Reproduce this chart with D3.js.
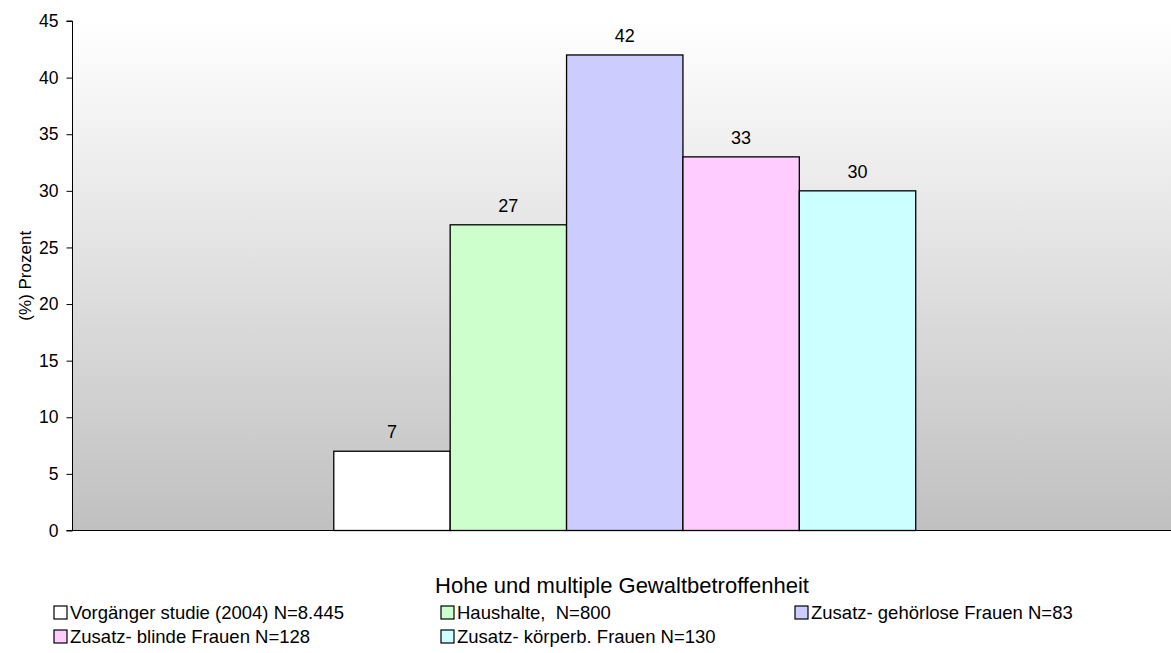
<!DOCTYPE html>
<html><head><meta charset="utf-8">
<script src="https://cdn.jsdelivr.net/npm/d3@7"></script>
<style>body{margin:0;background:#fff}svg{display:block;font-family:Arial,"Liberation Sans",sans-serif}</style>
</head><body>
<svg id="c" width="1171" height="653"></svg>
<script>
const category = ["Hohe und multiple Gewaltbetroffenheit"];
const series = ["Vorgänger studie (2004) N=8.445","Haushalte,  N=800","Zusatz- gehörlose Frauen N=83","Zusatz- blinde Frauen N=128","Zusatz- körperb. Frauen N=130"];
const values = [7, 27, 42, 33, 30];
const colors = ["#ffffff","#ccffcc","#ccccff","#ffccff","#ccffff"];
const yTicks = [0,5,10,15,20,25,30,35,40,45];

const svg = d3.select("#c");
const L = 72.5, R = 1177, T = 21, B = 530.5;
const defs = svg.append("defs");
const g = defs.append("linearGradient").attr("id","bg").attr("x1",0).attr("y1",0).attr("x2",0).attr("y2",1);
g.append("stop").attr("offset","0%").attr("stop-color","#ffffff");
g.append("stop").attr("offset","100%").attr("stop-color","#c0c0c0");
svg.append("rect").attr("x",L).attr("y",T).attr("width",R-L).attr("height",B-T).attr("fill","url(#bg)");

const y = d3.scaleLinear().domain([0,45]).range([B,T]);
const x0 = d3.scaleBand().domain(category).range([L,R]).paddingOuter(0.449).paddingInner(0);
const x1 = d3.scaleBand().domain(series).range([0,x0.bandwidth()]);

const gb = svg.append("g").attr("transform",`translate(${x0(category[0])},0)`);
gb.selectAll("rect").data(values).join("rect")
  .attr("x",(d,i)=>x1(series[i])).attr("y",d=>y(d))
  .attr("width",x1.bandwidth()).attr("height",d=>B-y(d))
  .attr("fill",(d,i)=>colors[i]).attr("stroke","#000").attr("stroke-width",1.3);
gb.selectAll("text").data(values).join("text")
  .attr("x",(d,i)=>x1(series[i])+x1.bandwidth()/2).attr("y",d=>y(d)-13)
  .attr("text-anchor","middle").attr("font-size",18).attr("fill","#000").text(d=>d);

const ya = svg.append("g").attr("transform",`translate(${L},0)`)
  .call(d3.axisLeft(y).tickValues(yTicks).tickSize(6).tickPadding(8));
ya.select(".domain").attr("stroke","#000").attr("d",`M-6,${T}H0V${B}`);
ya.selectAll("text").attr("font-size",17.5).attr("fill","#000").attr("font-family","Arial");
ya.selectAll("line").attr("stroke","#000");

svg.append("line").attr("x1",L-6).attr("x2",1171).attr("y1",B).attr("y2",B).attr("stroke","#000").attr("stroke-width",1);

svg.append("text").attr("transform",`translate(31,${(T+B)/2}) rotate(-90)`).attr("text-anchor","middle")
  .attr("font-size",17).text("(%) Prozent");
svg.append("text").attr("x",622).attr("y",593).attr("text-anchor","middle").attr("font-size",22).text(category[0]);

const legPos = [[54,624],[441,624],[795,624],[54,648],[441,648]];
const lg = svg.append("g");
series.forEach((s,i)=>{
  const [lx,ly] = legPos[i];
  lg.append("rect").attr("x",lx).attr("y",ly-18).attr("width",13).attr("height",13)
    .attr("fill",colors[i]).attr("stroke","#000").attr("stroke-width",1.2);
  lg.append("text").attr("x",lx+16).attr("y",ly-5).attr("font-size",18.5).attr("xml:space","preserve").text(s);
});
</script>
</body></html>
